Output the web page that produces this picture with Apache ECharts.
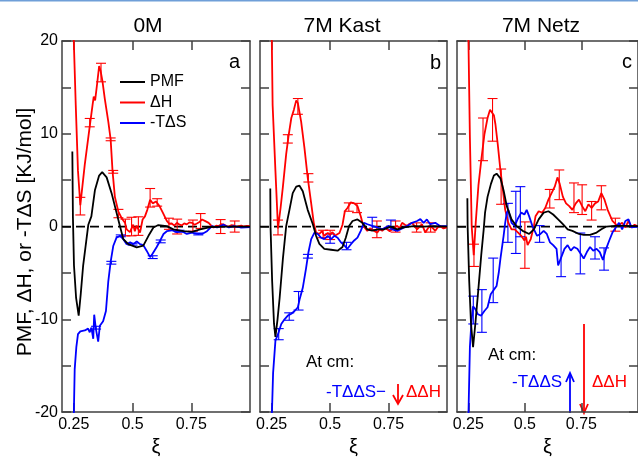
<!DOCTYPE html>
<html>
<head>
<meta charset="utf-8">
<script src="https://cdn.jsdelivr.net/npm/echarts@6/dist/echarts.min.js"></script>
<style>html,body{margin:0;padding:0;background:#fff}#c{width:638px;height:462px}</style>
</head>
<body>
<div id="c"></div>
<script>
// ---------- data ----------
const panelTitles = ['0M', '7M Kast', '7M Netz'];
const panelLetters = ['a', 'b', 'c'];
const seriesNames = ['PMF', 'ΔH', '-TΔS'];
const xTickValues = [0.25, 0.5, 0.75];
const yLabelValues = [-20, -10, 0, 10, 20];

// Panel a (0M)
const pmfA = [[0.244,8.1],[0.2465,1.0],[0.251,-4.2],[0.26,-7.7],[0.271,-9.6],[0.28,-7.2],[0.29,-4.2],[0.303,-1.6],[0.312,0.2],[0.325,1.1],[0.34,3.9],[0.358,5.5],[0.371,5.86],[0.39,5.3],[0.411,3.6],[0.432,1.5],[0.447,0],[0.461,-1.36],[0.482,-1.9],[0.518,-2.24],[0.546,-2.06],[0.568,-1.0],[0.589,-0.1],[0.61,0.16],[0.646,0.05],[0.674,-0.3],[0.717,-0.5],[0.753,-0.58],[0.788,-0.3],[0.831,-0.05],[0.9,0.0],[1.0,0.0]];
const dhA = [[0.249,21],[0.2585,13.1],[0.268,6.0],[0.278,2.3],[0.297,6.7],[0.318,10.8],[0.33,13.1],[0.335,14.0],[0.341,13.6],[0.35,15.5],[0.358,17.3],[0.364,16.8],[0.372,15.7],[0.382,13.8],[0.397,11.3],[0.407,9.4],[0.415,6.0],[0.425,3.2],[0.44,1.6],[0.454,0.9],[0.468,0.4],[0.475,-0.3],[0.482,-0.1],[0.489,-0.6],[0.496,-0.4],[0.503,0.2],[0.51,-0.5],[0.517,0.1],[0.525,-0.1],[0.532,-0.65],[0.543,0.76],[0.553,1.1],[0.563,1.8],[0.575,2.9],[0.586,2.5],[0.6,2.7],[0.615,2.2],[0.629,1.5],[0.646,0.6],[0.657,0.3],[0.667,0.33],[0.678,0.1],[0.689,0.4],[0.7,0.2],[0.71,0.12],[0.72,0.35],[0.731,0.23],[0.742,0.45],[0.753,0.4],[0.764,0.2],[0.774,0.33],[0.785,0.5],[0.796,0.76],[0.81,0.58],[0.824,0.4],[0.835,0.1],[0.845,-0.12],[0.856,0.1],[0.867,0.05],[0.878,0.25],[0.888,0.23],[0.9,0.05],[0.91,0],[0.92,0.15],[0.93,0.12],[0.94,-0.05],[0.952,0.05],[0.963,0.1],[0.974,0],[0.987,0.08],[1.0,0.05]];
const tsA = [[0.249,-22],[0.254,-15.4],[0.261,-13],[0.268,-11.6],[0.278,-11.3],[0.297,-11.2],[0.311,-11.0],[0.318,-11.4],[0.325,-10.9],[0.333,-12.1],[0.337,-9.5],[0.344,-11.0],[0.354,-12.4],[0.361,-10.7],[0.375,-10.2],[0.387,-9.1],[0.397,-5.9],[0.407,-3.8],[0.418,-2.1],[0.432,-1.2],[0.447,-1.0],[0.461,-1.36],[0.475,-1.9],[0.49,-1.7],[0.504,-1.9],[0.518,-1.6],[0.532,-1.9],[0.546,-2.0],[0.56,-2.6],[0.575,-3.3],[0.586,-2.9],[0.603,-2.2],[0.618,-1.5],[0.632,-0.8],[0.646,-0.5],[0.667,-0.4],[0.689,-0.6],[0.71,-0.5],[0.731,-0.8],[0.753,-0.65],[0.774,-0.8],[0.796,-0.8],[0.817,-0.5],[0.838,0.05],[0.86,-0.1],[0.888,0.2],[0.91,-0.1],[0.93,0.05],[0.96,-0.1],[1.0,-0.05]];
const dhErrA = [[0.278,2.2,0.95],[0.318,11.2,0.45],[0.366,16.6,1.0],[0.407,9.4,0.15],[0.418,5.9,0.15],[0.44,1.4,0.45],[0.47,-0.1,0.9],[0.496,0.0,1.0],[0.525,0.05,1.0],[0.575,3.1,1.0],[0.605,2.6,0.4],[0.655,0.3,0.6],[0.69,0.0,0.8],[0.757,0.1,0.6],[0.79,0.6,0.8],[0.875,0.0,0.75],[0.935,0.0,0.6]];
const tsErrA = [[0.345,-10.9,0.15],[0.41,-3.9,0.15],[0.45,-1.0,0.1],[0.5,-1.9,0.1],[0.586,-3.3,0.15],[0.62,-1.6,0.15],[0.7,-0.5,0.1],[0.78,-0.8,0.1]];

// Panel b (7M Kast)
const pmfB = [[0.244,4.1],[0.245,0],[0.252,-5.9],[0.26,-10.5],[0.266,-11.9],[0.275,-10],[0.284,-7.7],[0.298,-3.45],[0.312,0.05],[0.326,1.8],[0.34,3.6],[0.355,4.3],[0.369,4.4],[0.383,3.8],[0.404,1.8],[0.426,0.25],[0.44,-1.0],[0.454,-1.87],[0.475,-2.4],[0.504,-2.5],[0.532,-2.6],[0.553,-2.2],[0.567,-1.2],[0.581,0.05],[0.596,0.6],[0.617,0.77],[0.638,0.4],[0.659,-0.3],[0.68,-0.45],[0.702,-0.3],[0.73,-0.3],[0.758,0],[0.787,-0.3],[0.815,-0.1],[0.858,0.05],[0.9,0],[0.943,0.05],[1.0,0]];
const dhB = [[0.25,21],[0.254,13.1],[0.266,6.0],[0.277,-0.2],[0.288,2.0],[0.298,4.3],[0.312,7.8],[0.322,9.75],[0.334,11.7],[0.345,12.6],[0.355,13.6],[0.362,13.3],[0.369,13.1],[0.376,11.3],[0.39,8.5],[0.404,5.3],[0.419,2.5],[0.43,0.4],[0.44,-0.65],[0.454,-0.8],[0.465,-0.5],[0.475,-1.0],[0.49,-0.7],[0.5,-0.9],[0.51,-0.6],[0.52,-1.0],[0.54,-0.7],[0.553,0.2],[0.563,1.65],[0.574,2.0],[0.588,2.6],[0.603,2.5],[0.617,2.2],[0.631,1.1],[0.642,0.07],[0.659,-0.46],[0.67,-0.2],[0.68,-0.3],[0.69,-0.5],[0.702,-0.65],[0.712,-0.3],[0.723,-0.46],[0.735,-0.1],[0.744,-0.3],[0.755,-0.5],[0.765,-0.3],[0.775,-0.1],[0.787,0.07],[0.797,-0.2],[0.808,0.4],[0.82,0.2],[0.83,0.07],[0.84,0.3],[0.85,0.4],[0.86,0.1],[0.872,-0.3],[0.883,0.0],[0.893,0.25],[0.9,-0.2],[0.907,-0.65],[0.918,-0.2],[0.928,0.07],[0.94,-0.2],[0.95,-0.46],[0.96,-0.1],[0.97,0.07],[0.985,-0.2],[1.0,-0.1]];
const tsB = [[0.25,-21],[0.256,-15.8],[0.266,-12.3],[0.277,-11.6],[0.291,-10.5],[0.305,-10.0],[0.319,-9.6],[0.334,-9.4],[0.348,-9.1],[0.362,-8.7],[0.369,-7.9],[0.383,-6.6],[0.397,-4.5],[0.407,-2.8],[0.419,-1.35],[0.433,-0.65],[0.447,-0.8],[0.461,-1.2],[0.475,-1.35],[0.49,-1.0],[0.504,-1.35],[0.518,-1.0],[0.532,-1.2],[0.546,-1.7],[0.56,-2.0],[0.574,-2.4],[0.589,-1.9],[0.603,-1.5],[0.617,-1.2],[0.631,-0.46],[0.645,0.4],[0.66,0.25],[0.68,0.07],[0.702,-0.1],[0.723,-0.3],[0.737,-0.1],[0.751,0.07],[0.766,-0.3],[0.787,-0.46],[0.808,-0.2],[0.83,0.07],[0.85,0.4],[0.872,0.6],[0.886,0.8],[0.9,0.4],[0.914,0.77],[0.928,0.25],[0.95,0.4],[0.97,0.07],[1.0,0.05]];
const dhErrB = [[0.277,-0.1,0.8],[0.319,9.45,0.45],[0.362,12.95,0.85],[0.407,5.25,0.45],[0.47,-0.8,0.4],[0.5,-0.9,0.5],[0.58,2.1,0.45],[0.615,2.0,0.5],[0.7,-0.3,0.9],[0.78,0.0,0.6],[0.87,-0.1,0.5],[0.93,-0.1,0.5]];
const tsErrB = [[0.28,-11.6,0.6],[0.325,-9.7,0.4],[0.365,-8.0,1.0],[0.405,-3.2,0.2],[0.5,-1.3,0.5],[0.57,-2.1,0.4],[0.68,0.3,0.7],[0.76,0.2,0.5]];

// Panel c (7M Netz)
const pmfC = [[0.2458,3.06],[0.247,0],[0.254,-5.9],[0.262,-10.5],[0.271,-13.0],[0.281,-10.5],[0.2925,-7.3],[0.307,-3.1],[0.318,-0.3],[0.324,1.5],[0.335,3.2],[0.35,4.6],[0.363,5.5],[0.375,5.7],[0.392,5.2],[0.406,3.9],[0.42,2.2],[0.441,0.77],[0.462,0.07],[0.49,-0.46],[0.519,-0.8],[0.54,-0.3],[0.561,0.77],[0.583,1.5],[0.604,1.65],[0.625,1.3],[0.647,0.77],[0.668,0.25],[0.689,-0.3],[0.71,-0.46],[0.739,-0.8],[0.76,-0.9],[0.788,-0.9],[0.817,-0.65],[0.838,-0.3],[0.86,0],[0.9,0.07],[0.944,0.07],[1.0,0.05]];
const dhC = [[0.25,21],[0.257,9.6],[0.265,0],[0.274,-3.1],[0.283,0.5],[0.295,4.5],[0.307,7.1],[0.321,9.9],[0.335,11.7],[0.346,12.6],[0.353,12.7],[0.363,12.0],[0.37,11.0],[0.38,8.9],[0.392,6.05],[0.403,3.9],[0.413,1.8],[0.427,0.4],[0.441,-0.3],[0.455,-0.3],[0.47,-0.65],[0.484,-1.0],[0.498,-1.5],[0.505,-1.1],[0.512,-2.0],[0.526,-1.35],[0.54,0.07],[0.547,1.1],[0.561,1.65],[0.576,1.5],[0.59,2.0],[0.604,2.9],[0.618,3.6],[0.632,4.3],[0.644,5.3],[0.654,4.6],[0.668,3.2],[0.682,2.5],[0.696,2.2],[0.71,1.8],[0.725,2.5],[0.739,2.9],[0.753,2.2],[0.767,1.65],[0.781,2.4],[0.795,2.0],[0.81,2.5],[0.824,2.7],[0.838,3.6],[0.852,2.9],[0.866,1.8],[0.887,0.6],[0.909,0.07],[0.93,0.4],[0.944,-0.1],[0.958,0.6],[0.971,-0.1],[0.985,0.2],[1.0,0.0]];
const tsC = [[0.25,-21],[0.257,-13],[0.264,-10.2],[0.271,-8.6],[0.281,-8.9],[0.292,-9.45],[0.307,-9.6],[0.321,-9.1],[0.335,-8.7],[0.349,-7.3],[0.363,-6.8],[0.375,-6.4],[0.385,-4.9],[0.392,-3.45],[0.406,-1.0],[0.413,0.4],[0.42,1.5],[0.427,1.8],[0.441,0.4],[0.455,0.07],[0.47,0.9],[0.484,1.5],[0.498,1.3],[0.508,1.8],[0.519,1.1],[0.533,0.07],[0.54,-0.3],[0.554,-1.0],[0.569,-0.8],[0.583,-0.46],[0.597,-0.8],[0.611,-1.7],[0.625,-2.0],[0.64,-2.4],[0.647,-4.2],[0.661,-3.3],[0.675,-2.4],[0.689,-2.0],[0.703,-2.6],[0.717,-2.2],[0.732,-2.4],[0.746,-2.9],[0.76,-3.45],[0.774,-2.75],[0.788,-2.2],[0.802,-2.6],[0.817,-2.4],[0.831,-2.75],[0.845,-3.6],[0.859,-2.4],[0.873,-1.5],[0.887,-0.65],[0.902,-0.1],[0.916,0.4],[0.93,-0.3],[0.944,0.6],[0.958,0.77],[0.971,-0.1],[1.0,0.0]];
const dhErrC = [[0.275,-3.1,1.2],[0.315,9.4,2.3],[0.357,11.5,2.3],[0.395,4.3,1.9],[0.5,-2.0,2.5],[0.61,3.0,1.0],[0.652,4.5,1.6],[0.717,3.1,1.6],[0.753,2.9,1.6],[0.795,1.7,1.0],[0.838,3.1,1.3],[0.9,0.2,0.7]];
const tsErrC = [[0.272,-9.0,1.5],[0.31,-9.1,2.3],[0.36,-5.8,2.4],[0.425,0.4,2.1],[0.46,0.45,3.35],[0.48,1.6,2.7],[0.565,-0.8,0.9],[0.66,-3.3,2.1],[0.745,-2.9,2.2],[0.81,-2.3,1.2],[0.85,-3.5,1.2]];

const panels = [
  {pmf: pmfA, dh: dhA, ts: tsA, dhErr: dhErrA, tsErr: tsErrA},
  {pmf: pmfB, dh: dhB, ts: tsB, dhErr: dhErrB, tsErr: tsErrB},
  {pmf: pmfC, dh: dhC, ts: tsC, dhErr: dhErrC, tsErr: tsErrC}
];

// ---------- styling / layout ----------
const FONT = '"Liberation Sans", Arial, Helvetica, sans-serif';
const FRAME = '#404040';
const RED = '#ff0000', BLUE = '#0000ff', BLACK = '#000000';
const gridLefts = [62, 260, 457];
const gridWidths = [188, 187, 188];

const grids = [], xAxes = [], yAxes = [], series = [];
gridLefts.forEach((left, gi) => {
  grids.push({left: left, top: 41, width: gridWidths[gi], height: 379, containLabel: false});
  const tickStyle = {color: FRAME, width: 1.5};
  const common = {gridIndex: gi, type: 'value', min: 0.2, max: 1.0,
    axisLine: {show: true, onZero: false, lineStyle: tickStyle},
    axisTick: {show: true, inside: true, length: 9, customValues: xTickValues, lineStyle: tickStyle},
    splitLine: {show: false}};
  xAxes.push(Object.assign({}, common, {position: 'bottom',
    axisLabel: {show: true, customValues: xTickValues, margin: 4, fontSize: 16, color: '#000', fontFamily: FONT},
    name: 'ξ', nameLocation: 'middle', nameGap: 16,
    nameTextStyle: {fontSize: 20, color: '#000', fontFamily: FONT}}));
  xAxes.push(Object.assign({}, common, {position: 'top', axisLabel: {show: false}}));
  const ycommon = {gridIndex: gi, type: 'value', min: -20, max: 20, interval: 5,
    axisLine: {show: true, onZero: false, lineStyle: tickStyle},
    axisTick: {show: true, inside: true, length: 9, lineStyle: tickStyle},
    splitLine: {show: false}};
  yAxes.push(Object.assign({}, ycommon, {position: 'left',
    axisLabel: {show: gi === 0, margin: 4, fontSize: 16, color: '#000', fontFamily: FONT,
      formatter: v => (yLabelValues.indexOf(v) >= 0 ? String(v) : '')}}));
  yAxes.push(Object.assign({}, ycommon, {position: 'right', axisLabel: {show: false}}));

  const p = panels[gi];
  const xi = 2 * gi, yi = 2 * gi;
  series.push({type: 'line', name: 'zero', xAxisIndex: xi, yAxisIndex: yi,
    data: [[0.2, 0], [1.0, 0]], symbol: 'none', silent: true, z: 1,
    lineStyle: {color: BLACK, width: 1.8, type: [9, 5]}});
  const mk = (name, data, color, z) => ({type: 'line', name: name, xAxisIndex: xi, yAxisIndex: yi,
    data: data, symbol: 'none', showSymbol: false, clip: true, silent: true, z: z,
    lineStyle: {color: color, width: 1.8}, itemStyle: {color: color}});
  series.push(mk(seriesNames[0], p.pmf, BLACK, 4));
  series.push(mk(seriesNames[1], p.dh, RED, 3));
  series.push(mk(seriesNames[2], p.ts, BLUE, 3));
  const errRender = color => (params, api) => {
    const x = api.value(0), lo = api.value(1), hi = api.value(2);
    const a = api.coord([x, hi]), b = api.coord([x, lo]);
    const w = 5, st = {stroke: color, lineWidth: 1.1, fill: null};
    return {type: 'group', children: [
      {type: 'line', shape: {x1: a[0], y1: a[1], x2: b[0], y2: b[1]}, style: st},
      {type: 'line', shape: {x1: a[0] - w, y1: a[1], x2: a[0] + w, y2: a[1]}, style: st},
      {type: 'line', shape: {x1: b[0] - w, y1: b[1], x2: b[0] + w, y2: b[1]}, style: st}
    ]};
  };
  const mkErr = (name, errs, color) => ({type: 'custom', name: name, xAxisIndex: xi, yAxisIndex: yi,
    data: errs.map(e => [e[0], e[1] - e[2], e[1] + e[2]]), encode: {x: 0, y: [1, 2]},
    renderItem: errRender(color), silent: true, z: 3});
  series.push(mkErr('ΔH error', p.dhErr, RED));
  series.push(mkErr('-TΔS error', p.tsErr, BLUE));
});

// ---------- text / annotation graphics ----------
const titleX = [148, 342, 541];
const letterPos = [[240, 62], [441, 63], [632, 62]];
const graphic = [
  {type: 'rect', shape: {x: 0, y: 0, width: 638, height: 1.5}, style: {fill: '#6f9fd8'}, silent: true},
  {type: 'text', x: 25, y: 232, rotation: Math.PI / 2,
    style: {text: 'PMF, ΔH, or -TΔS [KJ/mol]', font: '21px ' + FONT, fill: '#000', align: 'center', verticalAlign: 'middle'}}
];
panelTitles.forEach((t, i) => graphic.push({type: 'text', x: titleX[i], y: 26,
  style: {text: t, font: '21px ' + FONT, fill: '#000', align: 'center', verticalAlign: 'middle'}}));
panelLetters.forEach((t, i) => graphic.push({type: 'text', x: letterPos[i][0], y: letterPos[i][1],
  style: {text: t, font: '20px ' + FONT, fill: '#000', align: 'right', verticalAlign: 'middle'}}));
// panel b annotation
graphic.push({type: 'text', x: 306, y: 362, style: {text: 'At cm:', font: '17px ' + FONT, fill: '#000', align: 'left', verticalAlign: 'middle'}});
graphic.push({type: 'text', x: 326, y: 392, style: {text: '-TΔΔS−', font: '17px ' + FONT, fill: BLUE, align: 'left', verticalAlign: 'middle'}});
graphic.push({type: 'line', shape: {x1: 398, y1: 384, x2: 398, y2: 403}, style: {stroke: RED, lineWidth: 1.8}});
graphic.push({type: 'polyline', shape: {points: [[393, 395], [398, 404], [403, 395]]}, style: {stroke: RED, lineWidth: 1.8, fill: null}});
graphic.push({type: 'text', x: 406, y: 392, style: {text: 'ΔΔH', font: '17px ' + FONT, fill: RED, align: 'left', verticalAlign: 'middle'}});
// panel c annotation
graphic.push({type: 'text', x: 488, y: 355, style: {text: 'At cm:', font: '17px ' + FONT, fill: '#000', align: 'left', verticalAlign: 'middle'}});
graphic.push({type: 'text', x: 512, y: 382, style: {text: '-TΔΔS', font: '17px ' + FONT, fill: BLUE, align: 'left', verticalAlign: 'middle'}});
graphic.push({type: 'text', x: 592, y: 382, style: {text: 'ΔΔH', font: '17px ' + FONT, fill: RED, align: 'left', verticalAlign: 'middle'}});
graphic.push({type: 'line', shape: {x1: 570, y1: 413, x2: 570, y2: 374}, style: {stroke: BLUE, lineWidth: 1.8}});
graphic.push({type: 'polyline', shape: {points: [[566, 382], [570, 373], [574, 382]]}, style: {stroke: BLUE, lineWidth: 1.8, fill: null}});
graphic.push({type: 'line', shape: {x1: 584, y1: 324, x2: 584, y2: 413}, style: {stroke: RED, lineWidth: 1.8}});
graphic.push({type: 'polyline', shape: {points: [[580, 404], [584, 413], [588, 404]]}, style: {stroke: RED, lineWidth: 1.8, fill: null}});

const chart = echarts.init(document.getElementById('c'), null, {renderer: 'canvas'});
chart.setOption({
  animation: false,
  backgroundColor: '#ffffff',
  textStyle: {fontFamily: FONT},
  grid: grids, xAxis: xAxes, yAxis: yAxes, series: series,
  legend: {data: seriesNames, orient: 'vertical', left: 119, top: 74, padding: 0,
    itemWidth: 25, itemHeight: 14, itemGap: 4.5, selectedMode: false,
    itemStyle: {opacity: 0, borderWidth: 0},
    textStyle: {fontSize: 16, color: '#000', fontFamily: FONT}},
  graphic: graphic
});
</script>
</body>
</html>
